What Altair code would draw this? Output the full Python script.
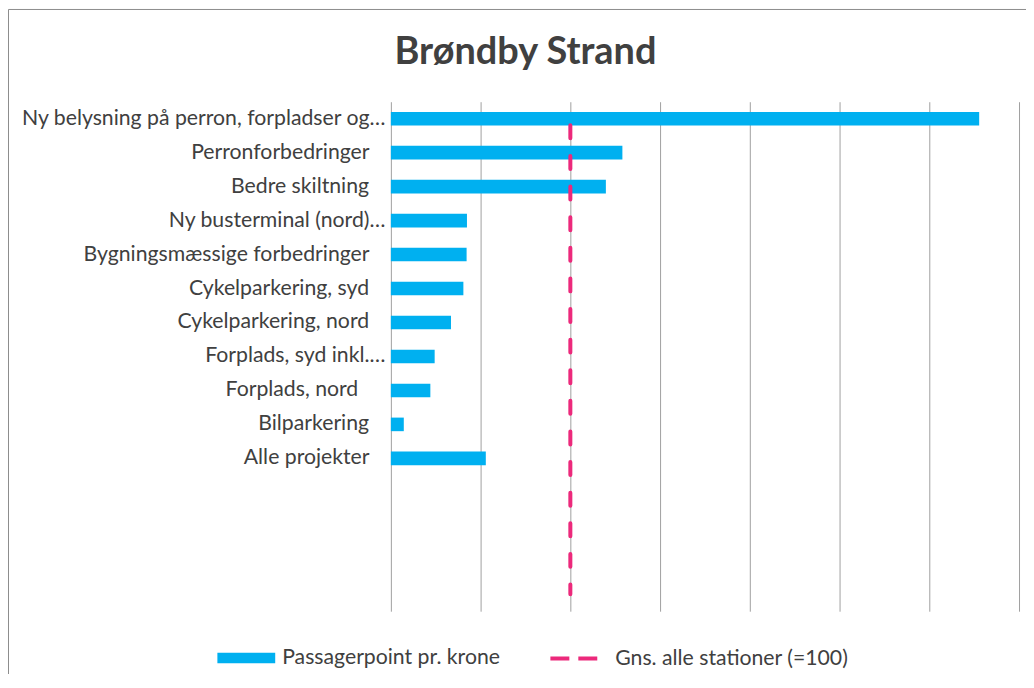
import altair as alt
import pandas as pd

NB = "\u00a0"
ZW = "\u200b"
# tick labels (trailing spaces as in the source labels)
categories = [
    "Ny belysning på perron, forpladser og…",
    "Perronforbedringer" + NB * 3 + ZW,
    "Bedre skiltning" + NB * 3 + ZW,
    "Ny busterminal (nord)…",
    "Bygningsmæssige forbedringer" + NB * 3 + ZW,
    "Cykelparkering, syd" + NB * 3 + ZW,
    "Cykelparkering, nord" + NB * 3 + ZW,
    "Forplads, syd inkl.…",
    "Forplads, nord" + NB * 5 + ZW,
    "Bilparkering" + NB * 3 + ZW,
    "Alle projekter" + NB * 3 + ZW,
]
blank_rows = [" ", "  ", "   ", "    "]
points_per_krone = [327.8, 129.0, 119.8, 42.4, 42.2, 40.4, 33.5, 24.4, 22.0, 7.2, 52.9]
avg_all_stations = [100, 100, 100, 100, 100, 100, 100, 100, 100, 100, 100, 100, 100, 100, 100]
x_ticks = [0, 50, 100, 150, 200, 250, 300, 350]

bar_name = "Passagerpoint pr. krone"
line_name = "Gns. alle stationer (=100)"

domain = categories + blank_rows

bars_df = pd.DataFrame({"cat": categories, "val": points_per_krone, "series": bar_name})
line_df = pd.DataFrame({
    "cat": domain,
    "val": avg_all_stations,
    "series": line_name,
    "idx": list(range(len(domain))),
})

FONT = "Lato"
TXT = "#404040"

y_enc = alt.Y(
    "cat:N",
    sort=domain,
    scale=alt.Scale(domain=domain, paddingInner=0.6, paddingOuter=0.3),
    axis=alt.Axis(title=None, ticks=False, domain=False, labelPadding=6,
                  labelFont=FONT, labelFontSize=21.3, labelColor=TXT, labelLimit=0),
)
x_enc = alt.X(
    "val:Q",
    scale=alt.Scale(domain=[0, 350], nice=False, zero=True),
    axis=alt.Axis(title=None, labels=False, ticks=False, domain=False, values=x_ticks,
                  grid=True, gridColor="#a0a0a0", gridWidth=1),
)

bars = alt.Chart(bars_df).mark_bar(color="#00B0F0").encode(
    y=y_enc,
    x=x_enc,
    color=alt.Color(
        "series:N",
        scale=alt.Scale(domain=[bar_name], range=["#00B0F0"]),
        legend=alt.Legend(
            title=None, orient="none", legendX=-174, legendY=529, padding=0,
            symbolType="M-1,-0.18L1,-0.18L1,0.18L-1,0.18Z", symbolSize=3364,
            symbolStrokeWidth=0, symbolOpacity=1, labelOffset=7, labelLimit=0,
            labelFont=FONT, labelFontSize=21.3, labelColor=TXT,
        ),
    ),
)

line = alt.Chart(line_df).mark_line(
    strokeWidth=4, strokeDash=[13, 17.7], strokeDashOffset=24, strokeCap="round"
).encode(
    y=alt.Y("cat:N", sort=domain),
    x=alt.X("val:Q"),
    order=alt.Order("idx:Q"),
    stroke=alt.Stroke(
        "series:N",
        scale=alt.Scale(domain=[line_name], range=["#EC297B"]),
        legend=alt.Legend(
            title=None, orient="none", legendX=158, legendY=533, padding=0,
            symbolType="stroke", symbolSize=2209, symbolStrokeWidth=4,
            symbolDash=[19, 9], labelOffset=16, labelLimit=0,
            labelFont=FONT, labelFontSize=21.3, labelColor=TXT,
        ),
    ),
)

frame_df = pd.DataFrame({"a": [0]})
left_border = alt.Chart(frame_df).mark_rule(color="#8c8c8c", strokeWidth=1).encode(
    x=alt.value(-383.5), y=alt.value(-92.5), y2=alt.value(590)
)
top_border = alt.Chart(frame_df).mark_rule(color="#8c8c8c", strokeWidth=1).encode(
    x=alt.value(-383.5), x2=alt.value(640), y=alt.value(-92.5)
)

chart = alt.layer(bars, line, left_border, top_border).resolve_scale(
    color="independent", stroke="independent"
).properties(
    width=630,
    height=511,
    autosize=alt.AutoSizeParams(type="none"),
    padding={"left": 384, "top": 93, "right": 7, "bottom": 62},
    background="white",
    title=alt.TitleParams(
        "Brøndby Strand", font=FONT, fontSize=38, fontWeight="bold", color=TXT,
        anchor="middle", frame="group", dx=-180, baseline="alphabetic", offset=-93.5,
    ),
).configure_view(stroke=None)

chart.save("out.html", embed_options={"renderer": "svg", "actions": False})
